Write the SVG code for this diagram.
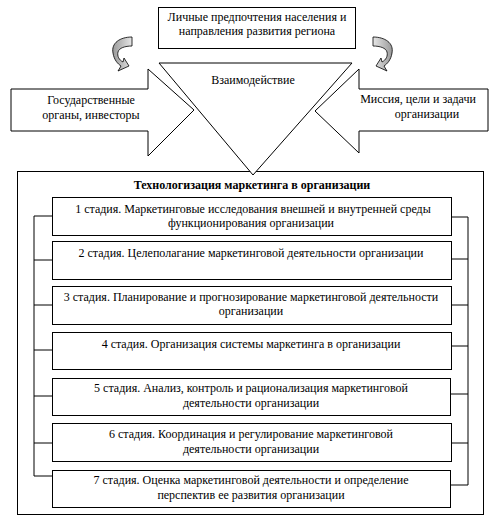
<svg xmlns="http://www.w3.org/2000/svg" width="496" height="527" viewBox="0 0 496 527">
<defs>
<linearGradient id="g" x1="0" y1="0" x2="1" y2="0">
<stop offset="0" stop-color="#9a9a9a"/>
<stop offset="1" stop-color="#e6e6e6"/>
</linearGradient>
<path id="curl" d="M132,37 C120,37 111,43 113,53 C114,60 118,64 121,66 L118,71 L129,66 L124,58 L123,62 C119,60 117,56 118,52 C119,48 125,46 132,46 Z"/>
</defs>
<style>
.b{fill:#fff;stroke:#000;stroke-width:1}
.t{font-family:"Liberation Serif","Times New Roman",serif;font-size:12px;fill:#000;text-anchor:middle}
.h{font-weight:bold}
.c{fill:none;stroke:#000;stroke-width:1}
.cu{fill:url(#g);stroke:#000;stroke-width:0.8}
</style>
<rect width="496" height="527" fill="#fff"/>
<g id="outer">
<rect class="b" x="17.5" y="171.5" width="466" height="343"/>
<text class="t h" x="252" y="189">Технологизация маркетинга в организации</text>
</g>
<g id="triangle">
<polygon class="b" points="159,63 352,63 253,175"/>
<text class="t" x="253" y="84">Взаимодействие</text>
</g>
<g id="top">
<rect class="b" x="158.5" y="7.5" width="197" height="41"/>
<text class="t" x="257" y="21">Личные предпочтения населения и</text>
<text class="t" x="257" y="35">направления развития региона</text>
</g>
<g id="left-arrow">
<polygon class="b" points="11,89 148,89 148,69 194,110 148,156 148,131 11,131"/>
<text class="t" x="91" y="104">Государственные</text>
<text class="t" x="91" y="119">органы, инвесторы</text>
</g>
<g id="right-arrow">
<polygon class="b" points="488,89 359,89 359,69 315,111 359,153 359,131 488,131"/>
<text class="t" x="418" y="103">Миссия, цели и задачи</text>
<text class="t" x="427" y="118">организации</text>
</g>
<g id="curl-left"><use href="#curl" class="cu"/></g>
<g id="curl-right"><use href="#curl" class="cu" transform="translate(505,0) scale(-1,1)"/></g>
<g id="connectors">
<path class="c" d="M34,216 V476 M34,216 H52 M34,260 H52 M34,305 H52 M34,350 H52 M34,396 H52 M34,443 H52 M34,476 H52"/>
<path class="c" d="M468,217 V485 M451,217 H468 M451,259 H468 M451,305 H468 M451,346 H468 M451,394 H468 M451,443 H468 M451,485 H468"/>
</g>
<g id="stage1">
<rect class="b" x="52.5" y="197.5" width="399" height="38"/>
<text class="t" x="253" y="213">1 стадия. Маркетинговые исследования внешней и внутренней среды</text>
<text class="t" x="251" y="227">функционирования организации</text>
</g>
<g id="stage2">
<rect class="b" x="52.5" y="241.5" width="399" height="38"/>
<text class="t" x="251" y="257">2 стадия. Целеполагание маркетинговой деятельности организации</text>
</g>
<g id="stage3">
<rect class="b" x="52.5" y="286.5" width="399" height="38"/>
<text class="t" x="251" y="301">3 стадия. Планирование и прогнозирование маркетинговой деятельности</text>
<text class="t" x="251" y="315">организации</text>
</g>
<g id="stage4">
<rect class="b" x="52.5" y="332.5" width="399" height="37"/>
<text class="t" x="251" y="348">4 стадия. Организация системы маркетинга в организации</text>
</g>
<g id="stage5">
<rect class="b" x="52.5" y="378.5" width="398" height="37"/>
<text class="t" x="251" y="392">5 стадия. Анализ, контроль и рационализация маркетинговой</text>
<text class="t" x="251" y="407">деятельности организации</text>
</g>
<g id="stage6">
<rect class="b" x="52.5" y="423.5" width="399" height="38"/>
<text class="t" x="251" y="438">6 стадия. Координация и регулирование маркетинговой</text>
<text class="t" x="251" y="453">деятельности организации</text>
</g>
<g id="stage7">
<rect class="b" x="52.5" y="470.5" width="398" height="37"/>
<text class="t" x="251" y="484">7 стадия. Оценка маркетинговой деятельности и определение</text>
<text class="t" x="251" y="499">перспектив ее развития организации</text>
</g>
</svg>
